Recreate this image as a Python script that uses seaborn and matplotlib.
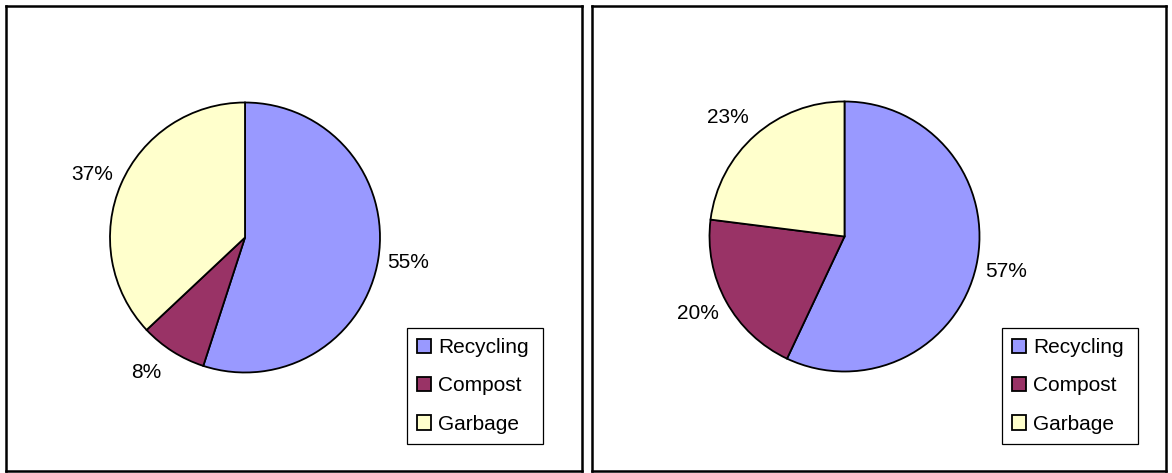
import numpy as np
import matplotlib
matplotlib.use("Agg")
import matplotlib.pyplot as plt
import seaborn as sns

# Waste stream shares for the two periods
categories = ["Recycling", "Compost", "Garbage"]
shares_before = [55, 8, 37]
shares_after = [57, 20, 23]
palette = ["#9999FF", "#993366", "#FFFFCC"]

sns.set_theme(style="white")
plt.rcParams["font.family"] = ["Liberation Sans", "DejaVu Sans"]
plt.rcParams["text.color"] = "black"

W, H = 1172, 473
fig = plt.figure(figsize=(W / 100, H / 100), dpi=100)
fig.patch.set_facecolor("white")

# panel layout in pixels (top-left origin): box, pie centre, legend box
panels = [
    dict(values=shares_before, box=(6, 6, 582, 471), centre=(245, 237.5),
         legend=(407, 328, 136, 116)),
    dict(values=shares_after, box=(592, 6, 1166, 471), centre=(844.5, 236.5),
         legend=(1002, 328, 136, 116)),
]
radius = 135
fs = 15


def draw_panel(spec):
    x0, y0, x1, y1 = spec["box"]
    bw, bh = x1 - x0, y1 - y0
    ax = fig.add_axes([x0 / W, 1 - y1 / H, bw / W, bh / H])
    cx = spec["centre"][0] - x0
    cy = bh - (spec["centre"][1] - y0)

    wedges, _ = ax.pie(
        spec["values"], colors=palette, startangle=90, counterclock=False,
        center=(cx, cy), radius=radius,
        wedgeprops=dict(edgecolor="black", linewidth=1.3),
    )
    ax.set_aspect("auto")
    ax.set_xlim(0, bw)
    ax.set_ylim(0, bh)
    ax.set_frame_on(True)
    ax.set_xticks([])
    ax.set_yticks([])
    for sp in ax.spines.values():
        sp.set_visible(True)
        sp.set_color("black")
        sp.set_linewidth(1.8)

    # percentage labels just outside each wedge
    for w, v in zip(wedges, spec["values"]):
        theta = np.deg2rad((w.theta1 + w.theta2) / 2)
        ux, uy = np.cos(theta), np.sin(theta)
        px = cx + radius * (1.06 * ux + 0.16 * np.sign(ux))
        py = cy + radius * (1.06 * uy + 0.12 * uy)
        ax.text(px, py, f"{v}%", ha="center", va="center",
                fontsize=fs, color="black", zorder=5)

    lx, ly, lw, lh = spec["legend"]
    leg = ax.legend(
        wedges, categories, loc="upper left",
        bbox_to_anchor=(lx - x0, bh - (ly - y0) - lh, lw, lh),
        bbox_transform=ax.transData, mode="expand", borderaxespad=0,
        fontsize=fs, handlelength=0.67, handleheight=0.67,
        handletextpad=0.33, labelspacing=0.93, borderpad=0.48,
        fancybox=False, shadow=False, frameon=True, labelcolor="black",
    )
    frame = leg.get_frame()
    frame.set_edgecolor("black")
    frame.set_linewidth(0.9)
    frame.set_facecolor("white")
    frame.set_alpha(1)


for spec in panels:
    draw_panel(spec)

fig.savefig("out.png", dpi=100)
